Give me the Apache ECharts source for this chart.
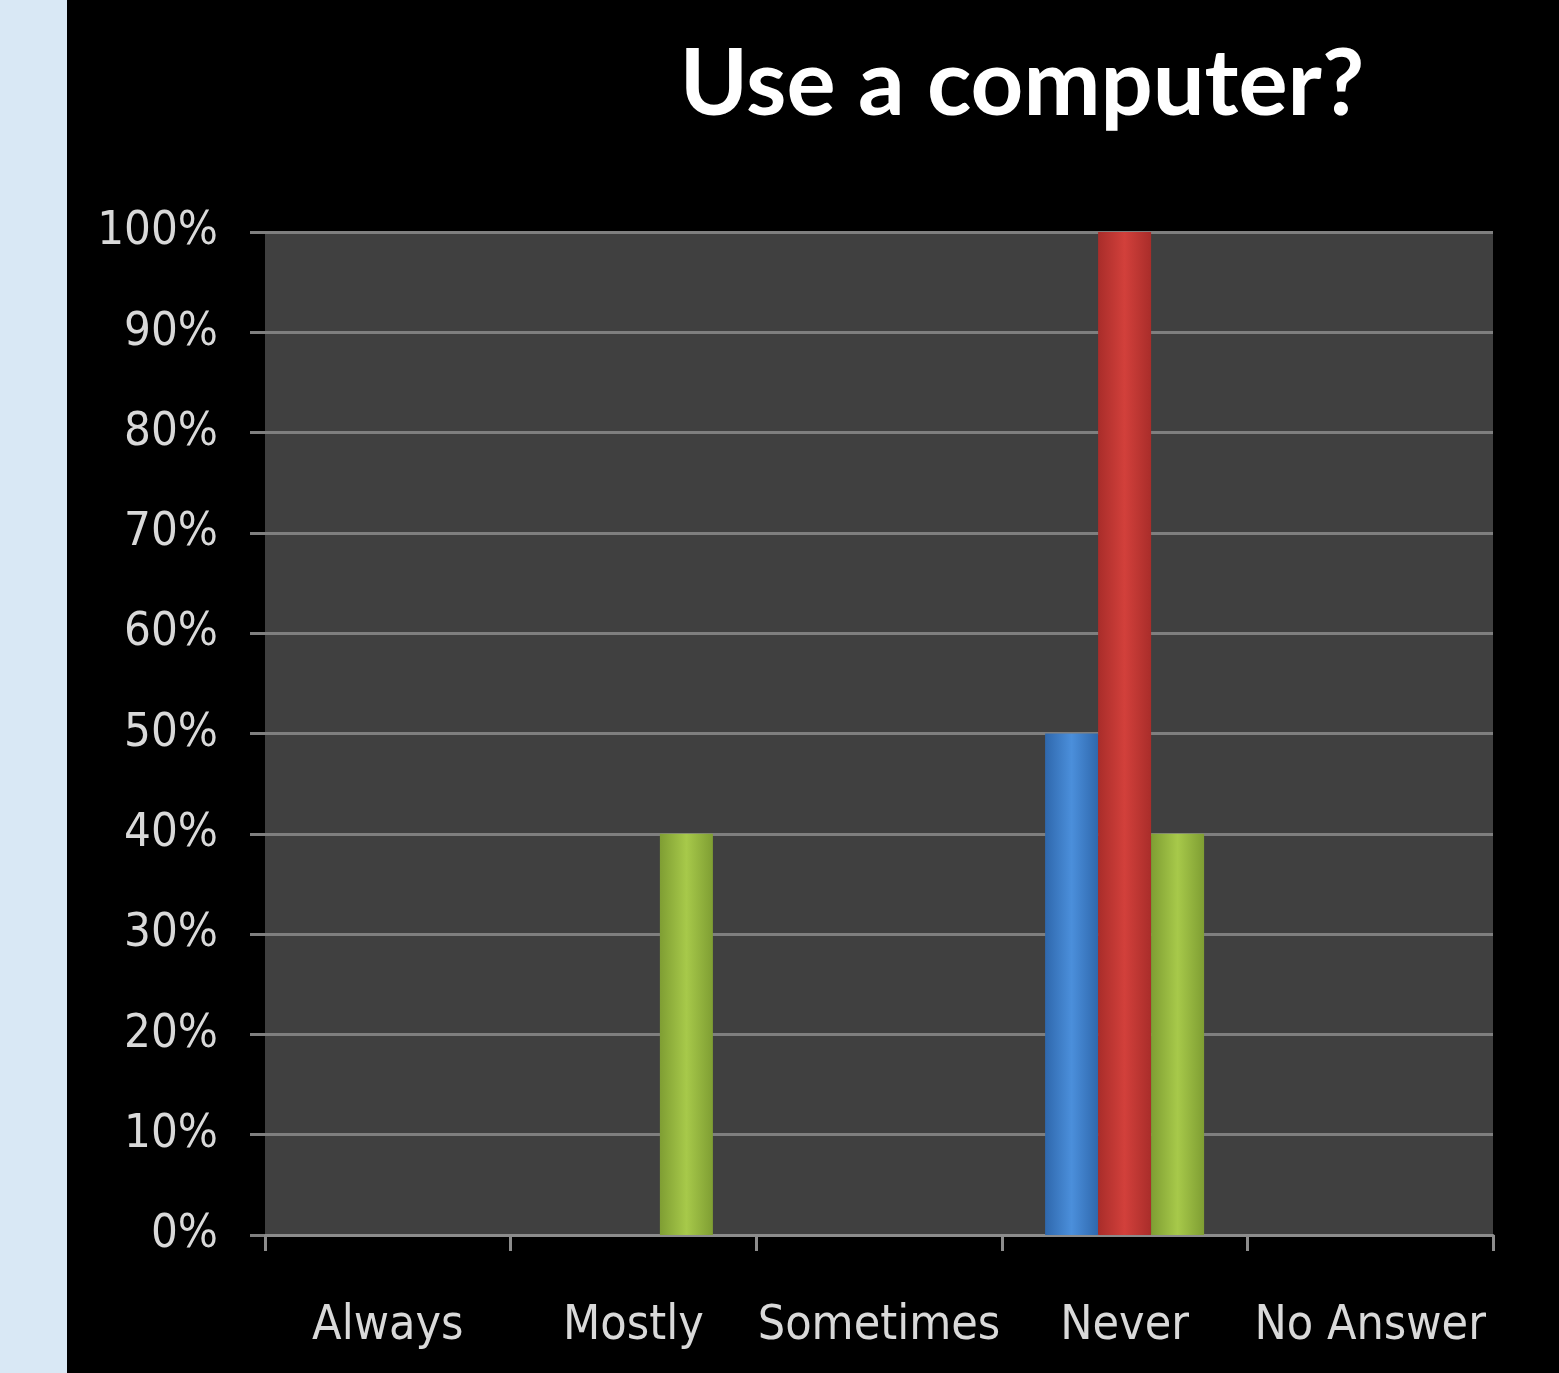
<!DOCTYPE html>
<html><head><meta charset="utf-8">
<script src="https://cdn.jsdelivr.net/npm/echarts@6/dist/echarts.min.js"></script>
<style>html,body{margin:0;padding:0;background:#000;}#c{width:1559px;height:1373px;}</style>
</head><body><div id="c"></div>
<script>
const categories = ['Always', 'Mostly', 'Sometimes', 'Never', 'No Answer'];
const seriesBlue = [0, 0, 0, 50, 0];
const seriesRed = [0, 0, 0, 100, 0];
const seriesGreen = [0, 40, 0, 40, 0];
const yTicks = [0, 10, 20, 30, 40, 50, 60, 70, 80, 90, 100];

function grad(edge, mid) {
  return new echarts.graphic.LinearGradient(0, 0, 1, 0, [
    {offset: 0, color: edge}, {offset: 0.5, color: mid}, {offset: 1, color: edge}
  ]);
}
const FONT = "'DejaVu Sans Condensed', 'Liberation Sans Narrow', 'Open Sans', sans-serif";
const chart = echarts.init(document.getElementById('c'), null, {renderer: 'canvas'});
chart.setOption({
  backgroundColor: '#000',
  animation: false,
  title: {
    text: 'Use a computer?', left: 1017, top: 34, textAlign: 'center',
    textStyle: {color: '#fff', fontSize: 92, fontWeight: 'bold', fontFamily: "Lato, 'Open Sans', sans-serif"}
  },
  graphic: [{type: 'rect', left: 0, top: 0, shape: {width: 67, height: 1373}, style: {fill: '#d9e8f5'}, z: -1}],
  grid: {left: 265, right: 66, top: 232, bottom: 138, show: true, backgroundColor: '#404040', borderWidth: 0},
  xAxis: {
    type: 'category', data: categories,
    axisLine: {lineStyle: {color: '#8c8c8c', width: 3}},
    axisTick: {show: true, interval: 0, length: 16, lineStyle: {color: '#8c8c8c', width: 3}},
    axisLabel: {color: '#d9d9d9', fontSize: 48, fontFamily: FONT, margin: 68, interval: 0}
  },
  yAxis: {
    type: 'value', min: 0, max: 100, interval: 10,
    axisLine: {show: false},
    axisTick: {show: true, length: 15, lineStyle: {color: '#7f7f7f', width: 3}},
    splitLine: {lineStyle: {color: '#7f7f7f', width: 3}},
    axisLabel: {color: '#d9d9d9', fontSize: 47, fontFamily: FONT, margin: 47,
      formatter: v => yTicks.includes(v) ? v + '%' : ''}
  },
  series: [
    {type: 'bar', data: seriesBlue, barWidth: 53, barGap: '0%', itemStyle: {color: grad('#2f68ad', '#4b8fdb')}},
    {type: 'bar', data: seriesRed, barWidth: 53, barGap: '0%', itemStyle: {color: grad('#a92d2a', '#d2403b')}},
    {type: 'bar', data: seriesGreen, barWidth: 53, barGap: '0%', itemStyle: {color: grad('#7f9e33', '#a7c94a')}}
  ]
});
</script></body></html>
